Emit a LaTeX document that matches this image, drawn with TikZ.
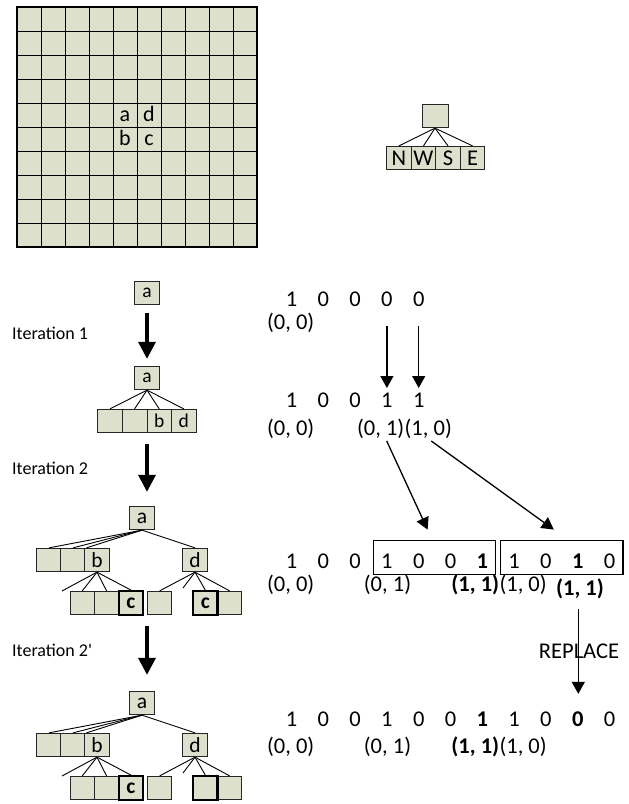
\documentclass[tikz,border=0pt]{standalone}
\usepackage{fontspec}
\setmainfont{Carlito}
\usetikzlibrary{arrows.meta,positioning,fit}
\definecolor{cellfill}{RGB}{221,224,205}

\begin{document}
\begin{tikzpicture}[
    x=1pt, y=-1pt,
    box/.style={draw=black!85, fill=cellfill, line width=0.8pt, minimum width=24.3pt,
        minimum height=23.5pt, inner sep=0pt},
    smallbox/.style={box, font=\fontsize{19.5}{21}\selectfont},
    bigbox/.style={box, font=\fontsize{21.5}{23}\selectfont},
    hit/.style={bigbox, line width=2.4pt, draw=black, font=\fontsize{21.5}{23}\selectfont\bfseries},
    link/.style={line width=0.9pt},
    digit/.style={inner sep=0pt, font=\fontsize{22.5}{24}\selectfont},
    coordtext/.style={inner sep=0pt, font=\fontsize{22.5}{24}\selectfont},
    iter/.style={anchor=west, inner sep=0pt, font=\fontsize{18}{20}\selectfont},
    steparrow/.style={line width=3.3pt, -{Triangle[length=17pt,width=17pt]}},
    thinarrow/.style={line width=1.3pt, -{Triangle[length=12pt,width=13pt]}}
]
\useasboundingbox (0,0) rectangle (629,804);

% board
\fill[cellfill] (17,7) rectangle (257,247);
\draw[line width=1pt, step=24pt, shift={(17,7)}] (0,0) grid (240,240);
\draw[line width=1.2pt] (17,7) rectangle (257,247);
\node[font=\fontsize{22}{24}\selectfont, anchor=base] (ga) at (125,121.5) {a};
\node[font=\fontsize{22}{24}\selectfont, anchor=base] (gd) at (149,121.5) {d};
\node[font=\fontsize{22}{24}\selectfont, anchor=base] (gb) at (125,145.5) {b};
\node[font=\fontsize{22}{24}\selectfont, anchor=base] (gc) at (149,145.5) {c};

% neighbour order
\node[box, minimum width=26pt] (root) at (435,116) {};
\foreach \d [count=\i] in {N,W,S,E}
    \node[box, font=\fontsize{22.5}{24}\selectfont] (dir\i) at (374.5+24.5*\i,158) {\d};
\foreach \i in {1,...,4}
    \draw[link] (root.south) -- (dir\i.north);

% iteration 1
\node[smallbox, minimum width=25pt] (a0) at (147,293) {a};
\node[smallbox, minimum width=25pt] (a1) at (147,378) {a};
\foreach \t [count=\i] in {{},{},b,d}
    \node[smallbox, minimum width=24.6pt] (k1\i) at (85.4+24.6*\i,421) {\t};
\foreach \i in {1,...,4}
    \draw[link] (a1.south) -- (k1\i.north);
\node[iter] (it1) at (12,333) {Iteration 1};
\draw[steparrow, shorten <=8pt, shorten >=7pt] (a0.south) -- (a1.north);

% iterations 2 and 2'
\foreach \tn/\dy/\lbl in {2/0/c, 3/185/{}} {
  \begin{scope}[shift={(0,\dy)}]
    \node[bigbox] (a\tn) at (142,518) {a};
    \node[bigbox] (l\tn1) at (49,560) {};
    \node[bigbox] (l\tn2) at (73,560) {};
    \node[bigbox] (b\tn) at (97,560) {b};
    \node[bigbox] (d\tn) at (195,560) {d};
    % children of b
    \coordinate (bm\tn) at (62,591);
    \node[bigbox] (bk\tn1) at (82.3,603) {};
    \node[bigbox] (bk\tn2) at (106.6,603) {};
    \node[hit] (bk\tn3) at (130.9,603) {c};
    % children of d
    \node[bigbox] (dk\tn1) at (159.7,603) {};
    \coordinate (dm\tn) at (183,588);
    \node[bigbox] (dk\tn3) at (229.6,603) {};
    \node[hit] (dk\tn2) at (205.3,603) {\lbl};
    \draw[link] (a\tn.south) -- (l\tn1.north);
    \draw[link] (a\tn.south) -- (l\tn2.north);
    \draw[link] (a\tn.south) -- ([xshift=2pt]b\tn.north west);
    \draw[link] (a\tn.south) -- (d\tn.north);
    \draw[link] (b\tn.south) -- (bm\tn);
    \foreach \i in {1,2,3}
        \draw[link] (b\tn.south) -- (bk\tn\i.north);
    \draw[link] (d\tn.south) -- (dk\tn1.north);
    \draw[link] (d\tn.south) -- (dm\tn);
    \draw[link] (d\tn.south) -- (dk\tn2.north);
    \draw[link] (d\tn.south) -- (dk\tn3.north);
  \end{scope}
}
\node[iter] (it2) at (12,468) {Iteration 2};
\node[iter] (it3) at (12,650) {Iteration 2\textquotesingle};
\draw[steparrow, shorten <=11pt, shorten >=14pt] (a1 |- k12.south) -- (a1 |- a2.north);
\draw[steparrow, shorten <=11pt, shorten >=16pt] (a1 |- bk21.south) -- (a1 |- a3.north);

% bit strings
\foreach \v [count=\k from 0] in {1,0,0,0,0}
    \node[digit] (r1-\k) at (291.5+31.8*\k,299) {\v};
\foreach \v [count=\k from 0] in {1,0,0,1,1}
    \node[digit] (r2-\k) at (291.5+31.8*\k,400) {\v};
\foreach \v [count=\k from 0] in {1,0,0,1,0,0,\textbf{1},1,0,\textbf{1},0}
    \node[digit] (r3-\k) at (291.5+31.8*\k,561.5) {\v};
\foreach \v [count=\k from 0] in {1,0,0,1,0,0,\textbf{1},1,0,\textbf{0},0}
    \node[digit] (r4-\k) at (291.5+31.8*\k,719.5) {\v};

\node[coordtext] (p1a) at (290.7,322.5) {(0, 0)};
\node[coordtext] (p2a) at (290.7,429) {(0, 0)};
\node[coordtext] (p2b) at (380.7,429) {(0, 1)};
\node[coordtext, right=0pt of p2b] (p2c) {(1, 0)};
\node[coordtext] (p3a) at (290.7,585) {(0, 0)};
\node[coordtext] (p3b) at (387.5,585) {(0, 1)};
\node[coordtext] (p3c) at (475.3,585) {\textbf{(1, 1)}};
\node[coordtext, right=0pt of p3c] (p3d) {(1, 0)};
\node[coordtext] (p3e) at (580,589) {\textbf{(1, 1)}};
\node[coordtext] (p4a) at (290.7,747) {(0, 0)};
\node[coordtext] (p4b) at (387.5,747) {(0, 1)};
\node[coordtext] (p4c) at (475.3,747) {\textbf{(1, 1)}};
\node[coordtext, right=0pt of p4c] (p4d) {(1, 0)};

% split groups
\node[draw, line width=1.3pt, fit=(r3-3)(r3-6), inner xsep=7.5pt, inner ysep=9.5pt, yshift=4.2pt] (g1) {};
\node[draw, line width=1.3pt, fit=(r3-7)(r3-10), inner xsep=7.5pt, inner ysep=9.5pt, yshift=4.2pt] (g2) {};

\draw[thinarrow, shorten <=27pt, shorten >=12pt] (r1-3.center) -- (r2-3.center);
\draw[thinarrow, shorten <=27pt, shorten >=12pt] (r1-4.center) -- (r2-4.center);
\draw[thinarrow] ([xshift=6pt,yshift=-2pt]p2b.south) -- ([xshift=-7pt,yshift=10pt]g1.north);
\draw[thinarrow] ([xshift=3pt,yshift=-2pt]p2c.south) -- ([xshift=-8pt,yshift=10pt]g2.north);

% replacement step
\coordinate (repfrom) at (578.3,609);
\node[coordtext] (rep) at (579,651.7) {REPLACE};
\draw[thinarrow, shorten >=18pt] (repfrom) -- (repfrom |- r4-9.north);
\end{tikzpicture}
\end{document}
